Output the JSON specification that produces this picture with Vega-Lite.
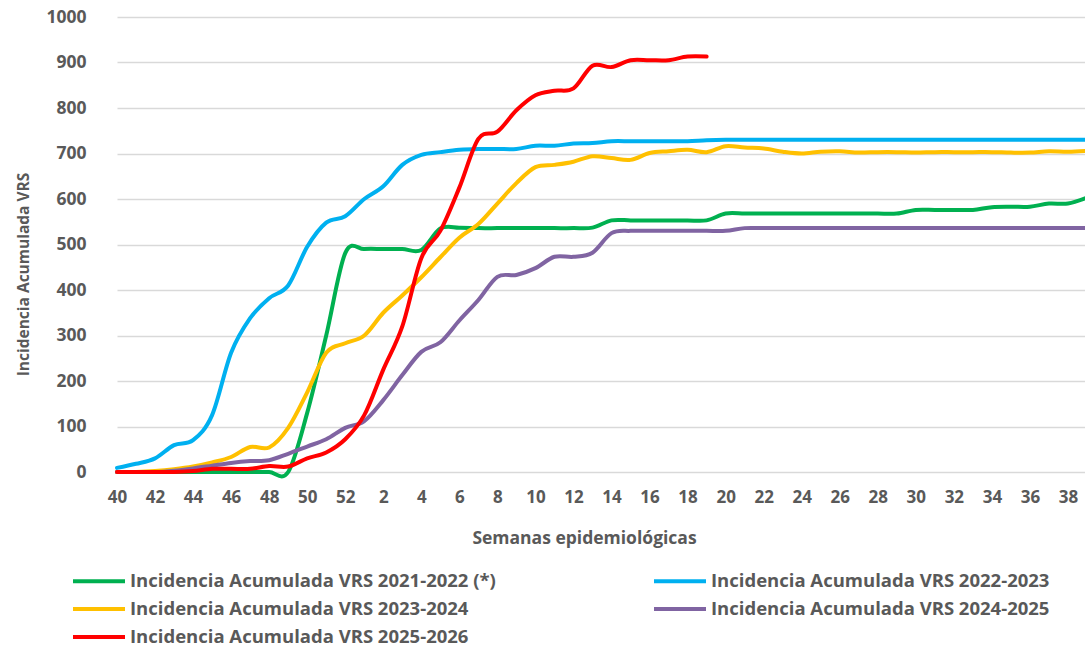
{
  "$schema": "https://vega.github.io/schema/vega-lite/v6.json",
  "width": 980,
  "height": 455,
  "autosize": {"type": "none"},
  "padding": {"left": 105, "top": 17, "right": 0, "bottom": 176},
  "background": "white",
  "config": {
    "view": {"stroke": null},
    "font": "Open Sans",
    "axis": {
      "labelFont": "Open Sans", "labelFontWeight": "bold", "labelColor": "#595959",
      "titleFont": "Open Sans", "titleFontWeight": "bold", "titleColor": "#595959",
      "domain": false, "ticks": false
    },
    "legend": {
      "labelFont": "Open Sans", "labelFontWeight": "bold", "labelColor": "#595959"
    }
  },
  "data": {
    "values": [
      {"w": 40, "2021-2022 (*)": 0, "2022-2023": 9, "2023-2024": 0, "2024-2025": 0, "2025-2026": 0},
      {"w": 41, "2021-2022 (*)": 0, "2022-2023": 18, "2023-2024": 0, "2024-2025": 0, "2025-2026": 0},
      {"w": 42, "2021-2022 (*)": 0, "2022-2023": 30, "2023-2024": 2, "2024-2025": 0, "2025-2026": 0},
      {"w": 43, "2021-2022 (*)": 0, "2022-2023": 59, "2023-2024": 6, "2024-2025": 3, "2025-2026": 0},
      {"w": 44, "2021-2022 (*)": 0, "2022-2023": 70, "2023-2024": 12, "2024-2025": 8, "2025-2026": 2},
      {"w": 45, "2021-2022 (*)": 0, "2022-2023": 125, "2023-2024": 21, "2024-2025": 14, "2025-2026": 7},
      {"w": 46, "2021-2022 (*)": 0, "2022-2023": 262, "2023-2024": 33, "2024-2025": 20, "2025-2026": 7},
      {"w": 47, "2021-2022 (*)": 0, "2022-2023": 338, "2023-2024": 55, "2024-2025": 24, "2025-2026": 7},
      {"w": 48, "2021-2022 (*)": 0, "2022-2023": 382, "2023-2024": 54, "2024-2025": 26, "2025-2026": 13},
      {"w": 49, "2021-2022 (*)": 0, "2022-2023": 410, "2023-2024": 97, "2024-2025": 40, "2025-2026": 12},
      {"w": 50, "2021-2022 (*)": 130, "2022-2023": 495, "2023-2024": 175, "2024-2025": 56, "2025-2026": 30},
      {"w": 51, "2021-2022 (*)": 300, "2022-2023": 548, "2023-2024": 262, "2024-2025": 72, "2025-2026": 43},
      {"w": 52, "2021-2022 (*)": 481, "2022-2023": 562, "2023-2024": 283, "2024-2025": 97, "2025-2026": 72},
      {"w": 1, "2021-2022 (*)": 490, "2022-2023": 600, "2023-2024": 300, "2024-2025": 112, "2025-2026": 125},
      {"w": 2, "2021-2022 (*)": 490, "2022-2023": 628, "2023-2024": 350, "2024-2025": 158, "2025-2026": 225},
      {"w": 3, "2021-2022 (*)": 490, "2022-2023": 675, "2023-2024": 388, "2024-2025": 213, "2025-2026": 320},
      {"w": 4, "2021-2022 (*)": 488, "2022-2023": 697, "2023-2024": 428, "2024-2025": 264, "2025-2026": 470},
      {"w": 5, "2021-2022 (*)": 535, "2022-2023": 703, "2023-2024": 472, "2024-2025": 285, "2025-2026": 530},
      {"w": 6, "2021-2022 (*)": 537, "2022-2023": 708, "2023-2024": 515, "2024-2025": 333, "2025-2026": 625},
      {"w": 7, "2021-2022 (*)": 536, "2022-2023": 710, "2023-2024": 545, "2024-2025": 378, "2025-2026": 732},
      {"w": 8, "2021-2022 (*)": 536, "2022-2023": 710, "2023-2024": 590, "2024-2025": 429, "2025-2026": 748},
      {"w": 9, "2021-2022 (*)": 536, "2022-2023": 710, "2023-2024": 635, "2024-2025": 433, "2025-2026": 795},
      {"w": 10, "2021-2022 (*)": 536, "2022-2023": 717, "2023-2024": 670, "2024-2025": 448, "2025-2026": 828},
      {"w": 11, "2021-2022 (*)": 536, "2022-2023": 717, "2023-2024": 675, "2024-2025": 473, "2025-2026": 838},
      {"w": 12, "2021-2022 (*)": 536, "2022-2023": 722, "2023-2024": 682, "2024-2025": 473, "2025-2026": 843},
      {"w": 13, "2021-2022 (*)": 537, "2022-2023": 723, "2023-2024": 694, "2024-2025": 482, "2025-2026": 893},
      {"w": 14, "2021-2022 (*)": 553, "2022-2023": 727, "2023-2024": 690, "2024-2025": 525, "2025-2026": 890},
      {"w": 15, "2021-2022 (*)": 553, "2022-2023": 727, "2023-2024": 686, "2024-2025": 530, "2025-2026": 905},
      {"w": 16, "2021-2022 (*)": 553, "2022-2023": 727, "2023-2024": 701, "2024-2025": 530, "2025-2026": 905},
      {"w": 17, "2021-2022 (*)": 553, "2022-2023": 727, "2023-2024": 705, "2024-2025": 530, "2025-2026": 905},
      {"w": 18, "2021-2022 (*)": 553, "2022-2023": 727, "2023-2024": 708, "2024-2025": 530, "2025-2026": 913},
      {"w": 19, "2021-2022 (*)": 553, "2022-2023": 729, "2023-2024": 703, "2024-2025": 530, "2025-2026": 913},
      {"w": 20, "2021-2022 (*)": 568, "2022-2023": 730, "2023-2024": 716, "2024-2025": 530},
      {"w": 21, "2021-2022 (*)": 568, "2022-2023": 730, "2023-2024": 713, "2024-2025": 536},
      {"w": 22, "2021-2022 (*)": 568, "2022-2023": 730, "2023-2024": 711, "2024-2025": 536},
      {"w": 23, "2021-2022 (*)": 568, "2022-2023": 730, "2023-2024": 704, "2024-2025": 536},
      {"w": 24, "2021-2022 (*)": 568, "2022-2023": 730, "2023-2024": 700, "2024-2025": 536},
      {"w": 25, "2021-2022 (*)": 568, "2022-2023": 730, "2023-2024": 704, "2024-2025": 536},
      {"w": 26, "2021-2022 (*)": 568, "2022-2023": 730, "2023-2024": 705, "2024-2025": 536},
      {"w": 27, "2021-2022 (*)": 568, "2022-2023": 730, "2023-2024": 702, "2024-2025": 536},
      {"w": 28, "2021-2022 (*)": 568, "2022-2023": 730, "2023-2024": 703, "2024-2025": 536},
      {"w": 29, "2021-2022 (*)": 568, "2022-2023": 730, "2023-2024": 703, "2024-2025": 536},
      {"w": 30, "2021-2022 (*)": 576, "2022-2023": 730, "2023-2024": 702, "2024-2025": 536},
      {"w": 31, "2021-2022 (*)": 576, "2022-2023": 730, "2023-2024": 703, "2024-2025": 536},
      {"w": 32, "2021-2022 (*)": 576, "2022-2023": 730, "2023-2024": 703, "2024-2025": 536},
      {"w": 33, "2021-2022 (*)": 576, "2022-2023": 730, "2023-2024": 703, "2024-2025": 536},
      {"w": 34, "2021-2022 (*)": 582, "2022-2023": 730, "2023-2024": 703, "2024-2025": 536},
      {"w": 35, "2021-2022 (*)": 583, "2022-2023": 730, "2023-2024": 702, "2024-2025": 536},
      {"w": 36, "2021-2022 (*)": 583, "2022-2023": 730, "2023-2024": 702, "2024-2025": 536},
      {"w": 37, "2021-2022 (*)": 590, "2022-2023": 730, "2023-2024": 705, "2024-2025": 536},
      {"w": 38, "2021-2022 (*)": 590, "2022-2023": 730, "2023-2024": 704, "2024-2025": 536},
      {"w": 39, "2021-2022 (*)": 603, "2022-2023": 730, "2023-2024": 706, "2024-2025": 536}
    ]
  },
  "transform": [
    {"fold": ["2021-2022 (*)", "2022-2023", "2023-2024", "2024-2025", "2025-2026"], "as": ["serie", "v"]},
    {"filter": "isValid(datum.v)"}
  ],
  "mark": {"type": "line", "interpolate": "cardinal", "strokeWidth": 4, "strokeCap": "round", "strokeJoin": "round"},
  "encoding": {
    "x": {
      "field": "w", "type": "ordinal",
      "scale": {"type": "point", "range": [12, 982], "padding": 0,
        "domain": [40,41,42,43,44,45,46,47,48,49,50,51,52,1,2,3,4,5,6,7,8,9,10,11,12,13,14,15,16,17,18,19,20,21,22,23,24,25,26,27,28,29,30,31,32,33,34,35,36,37,38,39]},
      "axis": {
        "title": "Semanas epidemiológicas", "titleFontSize": 17.5, "titlePadding": 24, "titleX": 479,
        "labelFontSize": 17, "labelPadding": 17, "labelAngle": 0, "grid": false,
        "values": [40,42,44,46,48,50,52,2,4,6,8,10,12,14,16,18,20,22,24,26,28,30,32,34,36,38]
      }
    },
    "y": {
      "field": "v", "type": "quantitative",
      "scale": {"domain": [0, 1000], "nice": false},
      "axis": {
        "title": "Incidencia Acumulada VRS", "titleFontSize": 15.5, "titlePadding": 14, "titleY": 257,
        "labelFontSize": 17.5, "labelPadding": 19, "format": "d",
        "values": [0,100,200,300,400,500,600,700,800,900,1000],
        "grid": true, "gridColor": "#D9D9D9", "gridWidth": 1.5
      }
    },
    "color": {
      "field": "serie", "type": "nominal",
      "scale": {
        "domain": ["2021-2022 (*)", "2022-2023", "2023-2024", "2024-2025", "2025-2026"],
        "range": ["#00B050", "#00B0F0", "#FFC000", "#8064A2", "#FF0000"]
      },
      "legend": {
        "title": null, "orient": "none", "legendX": -21, "legendY": 549,
        "columns": 2, "direction": "horizontal", "columnPadding": 150, "rowPadding": 3,
        "symbolType": "M-2,0H2", "symbolSize": 676, "symbolStrokeWidth": 4,
        "labelFontSize": 18.5, "labelOffset": 16, "padding": 0, "labelLimit": 1000,
        "labelExpr": "'Incidencia Acumulada VRS ' + datum.label"
      }
    }
  }
}
